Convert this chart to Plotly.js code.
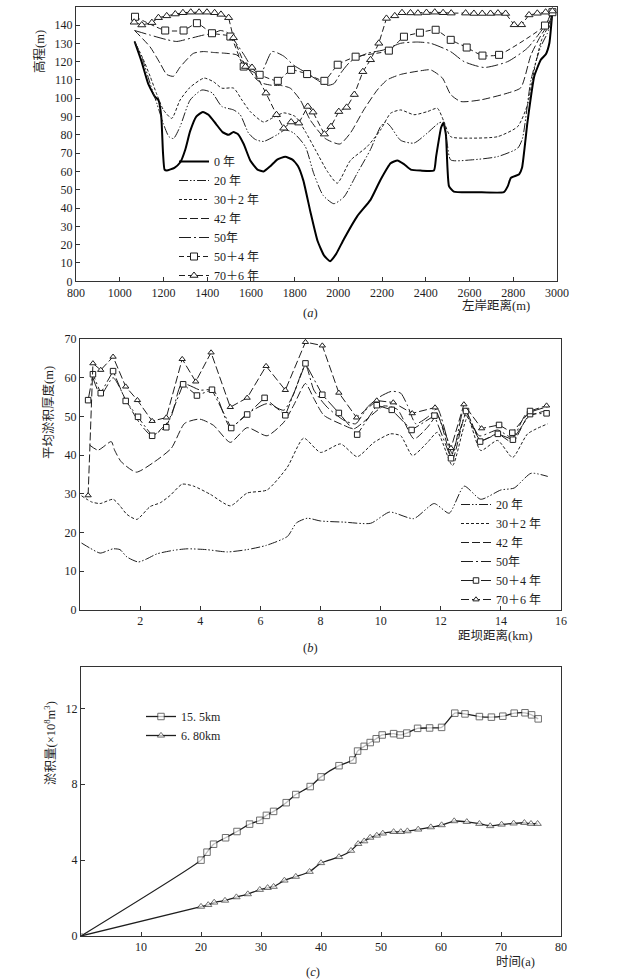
<!DOCTYPE html>
<html><head><meta charset="utf-8">
<script src="https://cdn.plot.ly/plotly-3.0.1.min.js"></script>
<style>html,body{margin:0;padding:0;background:#fff}</style>
</head><body><div id="chart" style="width:619px;height:980px"></div>
<script>
// ---------- (a) cross-section elevation ----------
const aNames = ['0 年','20 年','30＋2 年','42 年','50年','50＋4 年','70＋6 年'];
const a0x = [1068,1100,1130,1160,1177,1190,1198,1205,1215,1250,1277,1300,1322,1350,1380,1406,1440,1470,1498,1520,1540,1567,1597,1630,1658,1690,1720,1757,1790,1815,1840,1872,1905,1935,1962,1990,2025,2086,2147,2193,2239,2270,2300,2331,2376,2437,2447,2470,2481,2492,2506,2528,2635,2757,2775,2789,2827,2840,2865,2896,2926,2949,2965,2978];
const a0y = [131,120,108,101,99,90,70,61,60.5,62,65,72,82,90,92.5,91,86,81.5,80,81.5,80.5,75,66,61,60,63,66.5,68,66.5,63,55,38,22,14,11,15,23,35.5,44.5,55.5,64.5,66,64,61,60.5,60.5,68,84,86.5,80,52,49,48.7,48.7,52,56.5,58.5,62,87,112,121,124,130,146];
const a20x = [1068,1105,1139,1170,1200,1225,1246,1276,1322,1376,1422,1467,1521,1551,1589,1620,1658,1719,1757,1796,1849,1887,1930,1979,2025,2086,2147,2193,2216,2239,2285,2346,2407,2460,2481,2498,2514,2606,2728,2820,2842,2881,2925,2956,2979];
const a20y = [131,121,108,97,86,79,78,84.5,99,104.5,103,95.5,93.6,91,81,77.5,76.4,80,82.7,81,73.6,59,47,42.4,46,59,72,84.5,87,84.5,77,75.5,81,86.5,87,75,66.3,66.3,68.1,72.7,78,110,128,135.5,144];
const a32x = [1068,1105,1139,1170,1200,1238,1276,1322,1386,1429,1467,1521,1559,1597,1658,1704,1750,1803,1849,1895,1950,1995,2055,2132,2193,2239,2285,2346,2407,2453,2483,2514,2606,2728,2820,2865,2900,2930,2963,2979];
const a32y = [131,122,112,102,93.6,89,99,106,111,109,105.5,105.5,99,92.7,87,89.6,92,90,81.8,71.8,60,53.6,66,73.6,82.7,91.8,93.6,91,92.7,94.5,87.2,79,78.2,79,84.5,96.4,118,132,140,145];
const a42x = [1068,1139,1185,1215,1246,1276,1337,1383,1429,1490,1536,1582,1628,1658,1700,1735,1780,1826,1872,1940,2007,2055,2116,2178,2223,2285,2376,2422,2476,2514,2560,2651,2774,2834,2881,2925,2963,2979];
const a42y = [137,128,119,113,112,117,124.5,125.5,125,124.5,123.6,117,110,108,107,107,105.5,99,88,78,75,81,93.6,104.5,110,113,115,115.5,111,102,98.2,99.1,102.8,105.7,123.7,134,141,146];
const a50x = [1068,1139,1215,1261,1322,1383,1429,1460,1490,1521,1567,1612,1645,1697,1750,1796,1857,1903,1948,1980,2010,2055,2132,2208,2285,2361,2422,2513,2575,2667,2774,2865,2926,2957,2975];
const a50y = [137,134.5,132,131,132.7,134.5,135.5,137,136,132,124,115.5,113.6,125.5,123,118,113.6,110,107,108,113.6,120,124.5,126.4,130,130.7,130,125.5,120,116.8,120,127.4,136.5,142,148];
const a54x = [1070,1208,1292,1353,1422,1506,1567,1640,1723,1784,1857,1936,1997,2079,2231,2300,2373,2445,2514,2587,2659,2735,2945,2979];
const a54y = [144.5,137,137,141,135.5,133.7,117.3,112.8,109.5,115.5,113.2,109.5,118.3,122.7,126,133.6,135.8,137.4,131.9,127.7,123.3,123.7,139.7,147];
const a76x = [1066,1101,1147,1177,1215,1254,1289,1325,1363,1399,1434,1463,1498,1520,1575,1605,1669,1717,1750,1784,1819,1860,1884,1936,1966,2002,2038,2073,2112,2147,2185,2220,2258,2291,2330,2364,2403,2441,2479,2516,2582,2620,2658,2696,2730,2765,2804,2838,2872,2910,2948,2979];
const a76y = [141.5,140,141.3,144,145,146,146.7,147,147,147,146.7,145.8,144,133,117.3,116.8,102.8,91,83.6,87,86.4,95.5,92.4,80.4,84.5,92.7,95,102,114.5,121,130,143.6,145,146.7,146.6,146.5,146.8,147,146.7,146.5,146.5,146.3,146.3,146.3,146.5,146.3,140.1,140.1,145.5,146.4,147,147.6];
const aXTicks = [800,1000,1200,1400,1600,1800,2000,2200,2400,2600,2800,3000];
const aYTicks = [0,10,20,30,40,50,60,70,80,90,100,110,120,130,140,150];

// ---------- (b) mean deposit thickness ----------
const bNames = ['20 年','30＋2 年','42 年','50年','50＋4 年','70＋6 年'];
const b20x = [0.05,0.33,0.67,1.1,1.33,1.56,1.94,2.22,2.56,3.1,3.56,4.2,4.9,5.56,6.2,6.9,7.2,7.56,8.0,8.78,9.67,10.3,11.1,11.78,12.28,12.78,13.33,14.0,14.44,15.0,15.56];
const b20y = [17.3,16.0,14.7,15.8,15.6,13.7,12.4,13.2,14.5,15.4,15.8,15.6,15,15.6,16.7,19,22.5,23.7,23,22.7,22.4,25.3,23.6,27.5,25,32,28.6,31,31.5,35.3,34.5];
const b32x = [0.05,0.39,0.67,1.1,1.33,1.56,1.89,2.33,2.67,3.0,3.4,3.78,4.33,5.0,5.56,6.22,6.89,7.44,8.0,8.67,9.22,9.78,10.33,10.67,11.06,11.56,11.89,12.39,12.89,13.33,13.89,14.39,14.89,15.56];
const b32y = [29.5,27.9,27.5,28.6,26.9,24.7,23.4,26.7,27.7,29.6,32.5,32,29.9,26.9,30.2,31,36.8,44.4,40.7,42.9,39.6,43.3,45.5,45,39.9,43.3,45.9,37.3,49.8,41.2,43.8,39.4,45.5,48.1];
const b42x = [0.32,0.6,1.04,1.15,1.37,1.87,2.48,3.04,3.48,3.98,4.44,5.0,5.56,6.22,6.78,7.11,7.5,7.78,8.11,8.78,9.11,9.56,10.11,10.56,11.11,11.56,11.89,12.39,12.83,13.33,13.89,14.39,14.89,15.56];
const b42y = [42.6,41.3,43.5,41.3,38.3,35.6,38.3,41.8,48.2,49.3,47.7,43.3,47.1,45,48.5,52.9,58.5,54.6,50.3,47.7,46.8,49.4,52.7,51.8,44.2,47.2,50.3,39,50.3,43.8,45.5,43.3,49.8,51.6];
const b50x = [0.43,0.69,1.1,1.56,2.0,2.4,3.0,3.39,4.0,4.44,5.0,5.56,6.22,6.78,7.11,7.5,7.78,8.22,8.78,9.17,9.56,9.98,10.37,10.67,10.89,11.17,11.56,11.89,12.39,12.78,13.28,13.89,14.39,14.83,15.56];
const b50y = [60,55.5,60,53.7,48.1,45,49.4,58.5,56.8,56.8,47.2,50.7,53.3,51.6,55.9,63.3,56.8,52.4,49,48.1,52.4,55.1,56.5,56,52.9,48.1,49.8,52,40.3,52,45,46.5,44.5,50.5,52.5];
const b54x = [0.27,0.43,0.69,1.1,1.52,1.93,2.4,2.87,3.43,3.89,4.39,5.03,5.56,6.14,6.83,7.5,8.06,8.61,9.22,9.87,10.37,11.03,11.79,12.34,12.84,13.31,13.9,14.4,14.97,15.52];
const b54y = [54.2,60.9,56,61.7,54,49.9,45,47.2,58.3,55.4,56.9,47,50.5,54.8,50.3,63.7,55.6,50.9,45.3,52.9,51.7,46.5,50.2,39.2,51.4,43.5,45.5,44,50.6,50.8];
const b76x = [0.27,0.43,0.69,1.1,1.52,1.91,2.4,2.87,3.4,3.85,4.36,5.0,5.56,6.19,6.83,7.5,8.06,8.61,9.2,9.87,10.42,11.05,11.81,12.34,12.77,13.36,13.94,14.38,14.97,15.52];
const b76y = [29.6,63.7,62,65.4,57.7,54.2,48.8,49.7,64.8,59,66.5,52.4,54.8,63,56.8,69.2,68.3,56.1,49.7,54.1,53.6,50.8,52.3,41.8,53.1,46.9,47.8,45.8,51.4,52.8];
const bXTicks = [2,4,6,8,10,12,14,16];
const bYTicks = [0,10,20,30,40,50,60,70];

// ---------- (c) cumulative deposit volume ----------
const cNames = ['15. 5km','6. 80km'];
const c15t = [0,20,21,22.1,24.1,26,28.1,29.8,30.9,32.1,34.2,35.8,38.2,40,43,45.3,46.1,47.2,48.2,49.2,50.2,52.1,53.2,54.3,56.1,58.1,60.1,62.3,64,66.4,68.4,70.3,72.2,74,75.1,76.2];
const c15v = [0,4.0,4.42,4.84,5.18,5.51,5.9,6.1,6.36,6.57,7.03,7.46,7.88,8.39,8.98,9.28,9.75,10.0,10.2,10.4,10.6,10.67,10.6,10.7,10.95,10.97,11.0,11.75,11.71,11.57,11.54,11.59,11.75,11.77,11.66,11.45];
const c68t = [0,20,21.2,22.2,24,25.9,27.8,29.8,31.1,32.1,33.9,35.8,38.1,40,43,45,46.2,47.2,48.2,49.3,50.3,52.1,53.3,54.4,56.2,58.3,60.1,62.2,64.3,66.4,68.2,70.1,72.1,73.9,75,76.1];
const c68v = [0,1.55,1.64,1.77,1.87,2.05,2.21,2.44,2.54,2.6,2.93,3.13,3.39,3.85,4.17,4.5,4.86,5.0,5.19,5.3,5.41,5.49,5.49,5.53,5.62,5.74,5.85,6.06,6.02,5.92,5.8,5.88,5.94,5.97,5.92,5.92];
const cXTicks = [10,20,30,40,50,60,70,80];
const cYTicks = [0,4,8,12];

// ---------- drawing ----------
const W = 619, H = 980;
const dx = p => p / W, dy = p => 1 - p / H;
const FONT = '"Liberation Serif","Noto Sans CJK SC",serif';
const INK = '#1e1e1e';
const DASH = {
  solid: 'solid',
  ddot: '9px,2px,1.5px,2px,1.5px,2px',
  short: '3px,2px',
  long: '8px,3px',
  dashdot: '12px,3px,2px,3px',
  mk54: '5px,3px',
  mk76: '6px,3px'
};

function line(x, y, name, dash, width, xa, ya, lg, extra) {
  return Object.assign({
    type: 'scatter', mode: 'lines', x: x, y: y, name: name,
    xaxis: xa, yaxis: ya, legend: lg, hoverinfo: 'skip',
    line: {color: INK, width: width, dash: dash, shape: 'spline', smoothing: 0.6}
  }, extra || {});
}
function mk(symbol, size, edge) {
  return {symbol: symbol, size: size, color: '#ffffff', line: {color: edge || INK, width: 1}};
}
function marked(x, y, name, dash, marker, xa, ya, lg, shape, width) {
  return {
    type: 'scatter', mode: 'lines+markers', x: x, y: y, name: name,
    xaxis: xa, yaxis: ya, legend: lg, hoverinfo: 'skip',
    line: {color: INK, width: width || 1, dash: dash, shape: shape, smoothing: 0.5},
    marker: marker
  };
}

const traces = [
  line(a0x, a0y, aNames[0], DASH.solid, 2, 'x', 'y', 'legend', {line:{color:'#000',width:2,shape:'spline',smoothing:0.45}}),
  line(a20x, a20y, aNames[1], DASH.ddot, 1, 'x', 'y', 'legend'),
  line(a32x, a32y, aNames[2], DASH.short, 1, 'x', 'y', 'legend'),
  line(a42x, a42y, aNames[3], DASH.long, 1, 'x', 'y', 'legend'),
  line(a50x, a50y, aNames[4], DASH.dashdot, 1, 'x', 'y', 'legend'),
  marked(a54x, a54y, aNames[5], DASH.mk54, mk('square', 7), 'x', 'y', 'legend', 'spline'),
  marked(a76x, a76y, aNames[6], DASH.mk76, mk('triangle-up', 7), 'x', 'y', 'legend', 'linear'),

  line(b20x, b20y, bNames[0], DASH.ddot, 1, 'x2', 'y2', 'legend2'),
  line(b32x, b32y, bNames[1], DASH.short, 1, 'x2', 'y2', 'legend2'),
  line(b42x, b42y, bNames[2], DASH.long, 1, 'x2', 'y2', 'legend2'),
  line(b50x, b50y, bNames[3], DASH.dashdot, 1, 'x2', 'y2', 'legend2'),
  marked(b54x, b54y, bNames[4], DASH.dashdot, mk('square', 5.5), 'x2', 'y2', 'legend2', 'linear'),
  marked(b76x, b76y, bNames[5], DASH.long,
    {symbol: b76x.map((v, i) => (i >= 26 && i <= 28) ? 'square' : 'triangle-up'), size: 5.5, color: '#ffffff', line: {color: INK, width: 1}},
    'x2', 'y2', 'legend2', 'linear'),

  marked(c15t, c15v, cNames[0], 'solid',
    {symbol: 'square', size: c15t.map((v, i) => i === 0 ? 4 : 6.5), color: '#ffffff', line: {color: '#333', width: 1}},
    'x3', 'y3', 'legend3', 'spline', 1.3),
  marked(c68t, c68v, cNames[1], 'solid',
    {symbol: 'triangle-up', size: c68t.map((v, i) => i === 0 ? 0 : 6.5), color: '#ffffff', line: {color: '#333', width: 1}},
    'x3', 'y3', 'legend3', 'spline', 1.3)
];

function ax(extra) {
  return Object.assign({
    showline: true, mirror: true, linecolor: '#333', linewidth: 1,
    ticks: 'inside', ticklen: 4, tickcolor: '#333', showgrid: false, zeroline: false,
    tickfont: {family: FONT, size: 12, color: INK}, fixedrange: true
  }, extra);
}

function lg(x, y) {
  return {x: dx(x), y: dy(y), xanchor: 'left', yanchor: 'top', bgcolor: 'rgba(0,0,0,0)',
          borderwidth: 0, font: {family: FONT, size: 12, color: INK}, tracegroupgap: 0,
          traceorder: 'normal'};
}

function note(text, x, y, opts) {
  return Object.assign({text: text, xref: 'paper', yref: 'paper', x: dx(x), y: dy(y),
    xanchor: 'center', yanchor: 'middle', showarrow: false,
    font: {family: FONT, size: 12.5, color: INK}}, opts || {});
}

const layout = {
  width: W, height: H, margin: {l: 0, r: 0, t: 0, b: 0},
  paper_bgcolor: '#fff', plot_bgcolor: '#fff', showlegend: true,
  font: {family: FONT, size: 12, color: INK},
  xaxis: ax({domain: [dx(76), dx(557)], range: [800, 3000], tickvals: aXTicks, anchor: 'y'}),
  yaxis: ax({domain: [dy(281.3), dy(6.7)], range: [0, 150], tickvals: aYTicks, anchor: 'x'}),
  xaxis2: ax({domain: [dx(80), dx(561)], range: [0, 16], tickvals: bXTicks, anchor: 'y2'}),
  yaxis2: ax({domain: [dy(610), dy(339)], range: [0, 70], tickvals: bYTicks, anchor: 'x2'}),
  xaxis3: ax({domain: [dx(81), dx(561)], range: [0, 80], tickvals: cXTicks, anchor: 'y3'}),
  yaxis3: ax({domain: [dy(936), dy(666.7)], range: [0, 14.2], tickvals: cYTicks, anchor: 'x3'}),
  legend: lg(174, 147),
  legend2: lg(456, 490),
  legend3: lg(141, 702),
  annotations: [
    note('高程(m)', 40, 52, {textangle: -90}),
    note('左岸距离(m)', 496, 305),
    note('(<i>a</i>)', 310, 313),
    note('平均淤积厚度(m)', 48, 413, {textangle: -90}),
    note('距坝距离(km)', 495, 635),
    note('(<i>b</i>)', 310, 648),
    note('淤积量(×10<sup>8</sup>m<sup>3</sup>)', 50, 743, {textangle: -90}),
    note('时间(a)', 515, 962),
    note('(<i>c</i>)', 313, 972)
  ]
};

Plotly.newPlot('chart', traces, layout, {staticPlot: true, displayModeBar: false});
</script>
</body></html>
